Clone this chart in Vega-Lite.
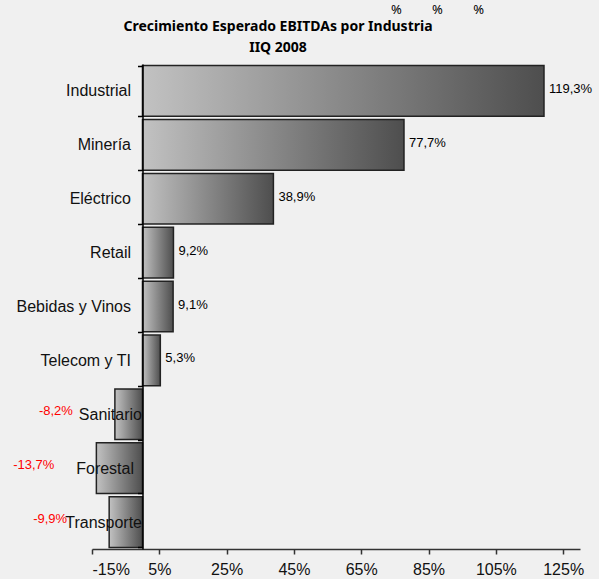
{
  "$schema": "https://vega.github.io/schema/vega-lite/v6.json",
  "autosize": "none",
  "width": 488,
  "height": 485,
  "padding": {"left": 92, "top": 64, "right": 19, "bottom": 30},
  "background": "#f0f0f0",
  "title": {
    "text": ["Crecimiento Esperado EBITDAs por Industria", "IIQ 2008"],
    "font": "Noto Sans",
    "fontSize": 14,
    "fontWeight": "bold",
    "color": "#000000",
    "anchor": "middle",
    "dx": -58,
    "dy": 60,
    "lineHeight": 21,
    "offset": 8
  },
  "data": {
    "values": [
      {"industria": "Industrial", "crecimiento": 1.193},
      {"industria": "Minería", "crecimiento": 0.777},
      {"industria": "Eléctrico", "crecimiento": 0.389},
      {"industria": "Retail", "crecimiento": 0.092},
      {"industria": "Bebidas y Vinos", "crecimiento": 0.091},
      {"industria": "Telecom y TI", "crecimiento": 0.053},
      {"industria": "Sanitario", "crecimiento": -0.082},
      {"industria": "Forestal", "crecimiento": -0.137},
      {"industria": "Transporte", "crecimiento": -0.099}
    ]
  },
  "encoding": {
    "y": {
      "field": "industria",
      "type": "nominal",
      "sort": null,
      "scale": {"paddingInner": 0.06, "paddingOuter": 0.03},
      "axis": {
        "title": null,
        "offset": -50.5,
        "zindex": 1,
        "tickBand": "extent",
        "domainColor": "#000000",
        "domainWidth": 1.5,
        "tickColor": "#000000",
        "tickSize": 5,
        "tickWidth": 1.5,
        "labelFont": "Liberation Sans",
        "labelFontSize": 16,
        "labelColor": "#111111",
        "labelPadding": {
          "condition": [
            {"test": "datum.value === 'Sanitario' || datum.value === 'Transporte'", "value": -4},
            {"test": "datum.value === 'Forestal'", "value": 4}
          ],
          "value": 7
        }
      }
    },
    "x": {
      "field": "crecimiento",
      "type": "quantitative",
      "scale": {"domain": [-0.15, 1.3], "nice": false, "zero": false},
      "axis": {
        "values": [-0.15, 0.05, 0.25, 0.45, 0.65, 0.85, 1.05, 1.25],
        "format": ".0%",
        "grid": false,
        "domainColor": "#333333",
        "domainWidth": 1.5,
        "tickColor": "#333333",
        "tickSize": 5,
        "tickWidth": 1.5,
        "labelFont": "Liberation Sans",
        "labelFontSize": 16,
        "labelColor": "#111111",
        "labelPadding": 7,
        "title": "%\u00a0\u00a0\u00a0\u00a0\u00a0\u00a0\u00a0\u00a0\u00a0%\u00a0\u00a0\u00a0\u00a0\u00a0\u00a0\u00a0\u00a0\u00a0%",
        "titleFont": "Noto Sans",
        "titleFontSize": 13,
        "titleFontWeight": "normal",
        "titleColor": "#000000",
        "titleX": 345,
        "titleY": -536,
        "titleBaseline": "alphabetic",
        "titleAnchor": "middle"
      }
    }
  },
  "layer": [
    {
      "mark": {
        "type": "bar",
        "stroke": "#222222",
        "strokeWidth": 1.5,
        "fill": {
          "gradient": "linear",
          "x1": 0, "y1": 0, "x2": 1, "y2": 0,
          "stops": [
            {"offset": 0, "color": "#c2c2c2"},
            {"offset": 1, "color": "#4e4e4e"}
          ]
        }
      }
    },
    {
      "transform": [{"filter": "datum.crecimiento >= 0"}],
      "mark": {"type": "text", "align": "left", "baseline": "middle", "dx": 5, "dy": -2, "font": "Liberation Sans", "fontSize": 13, "color": "#000000"},
      "encoding": {"text": {"field": "crecimiento", "type": "quantitative", "format": ".1%"}}
    },
    {
      "transform": [{"filter": "datum.crecimiento < 0"}],
      "mark": {"type": "text", "align": "right", "baseline": "middle", "dx": -42, "dy": -3, "font": "Liberation Sans", "fontSize": 13, "color": "#ff0000"},
      "encoding": {"text": {"field": "crecimiento", "type": "quantitative", "format": ".1%"}}
    }
  ],
  "config": {
    "view": {"stroke": null},
    "locale": {
      "number": {"decimal": ",", "thousands": ".", "grouping": [3], "currency": ["", " €"], "minus": "-"}
    }
  }
}
